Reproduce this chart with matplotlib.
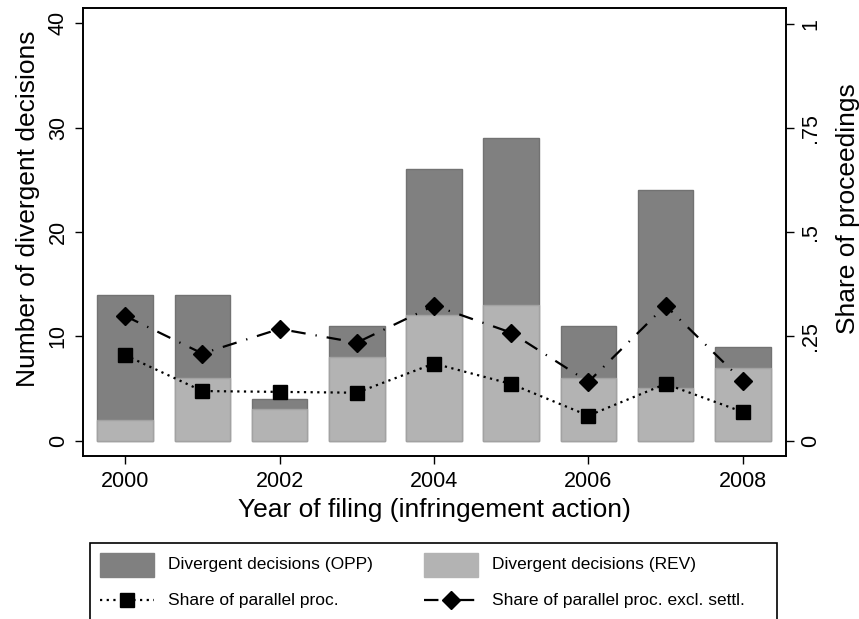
import numpy as np
import matplotlib
matplotlib.use('Agg')
import matplotlib.pyplot as plt
from matplotlib.patches import Rectangle
from matplotlib.lines import Line2D

plt.rcParams['font.family'] = ['Liberation Sans', 'DejaVu Sans']

years = [2000, 2001, 2002, 2003, 2004, 2005, 2006, 2007, 2008]
div_total = [14, 14, 4, 11, 26, 29, 11, 24, 9]       # OPP + REV (dark bar top)
div_rev = [2, 6, 3, 8, 12, 13, 6, 5, 7]               # REV (light bar)
share_parallel = [0.205, 0.119, 0.117, 0.115, 0.185, 0.136, 0.060, 0.136, 0.069]
share_excl_settl = [0.299, 0.209, 0.268, 0.235, 0.324, 0.259, 0.141, 0.324, 0.143]

DARK = '#808080'
LIGHT = '#b3b3b3'
DOT = (1.0, 2.0)
LDASH_DOT = (6.5, 4.5, 0.6, 4.5)
W, H = 859, 619

fig = plt.figure(figsize=(W / 100, H / 100), dpi=100, facecolor='white')
ax = fig.add_axes([82.7 / W, 1 - 456 / H, (786 - 82.7) / W, (456 - 8.3) / H])

ax.bar(years, div_total, width=0.72, color=DARK, edgecolor='#727272', linewidth=1, zorder=2)
ax.bar(years, div_rev, width=0.72, color=LIGHT, edgecolor='#a2a2a2', linewidth=1, zorder=3)
ax.set_xlim(1999.45, 2008.56)
ax.set_ylim(-1.47, 41.44)
ax.set_xticks([2000, 2002, 2004, 2006, 2008])
ax.set_yticks([0, 10, 20, 30, 40])
ax.set_yticklabels(['0', '10', '20', '30', '40'], rotation=90, va='center')
ax.tick_params(labelsize=15.5, length=6, width=1, direction='out', colors='black')
ax.tick_params(axis='x', pad=5)
ax.tick_params(axis='y', pad=4)
ax.set_xlabel('Year of filing (infringement action)', fontsize=19, labelpad=4)
ax.set_ylabel('Number of divergent decisions', fontsize=19)
ax.yaxis.set_label_coords(-0.061, 0.553)

ax2 = ax.twinx()
ax2.set_ylim(-0.0367, 1.0366)
ax2.plot(years, share_parallel, color='black', lw=1.6, marker='s', markersize=10,
         dashes=DOT, zorder=5)
ax2.plot(years, share_excl_settl, color='black', lw=1.6, marker='D', markersize=9.5,
         dashes=LDASH_DOT, zorder=5)
ax2.set_yticks([0, 0.25, 0.5, 0.75, 1])
ax2.set_yticklabels(['0', '.25', '.5', '.75', '1'], rotation=90, va='center')
ax2.tick_params(labelsize=15.5, length=6, width=1, direction='out', pad=4)
ax2.set_ylabel('Share of proceedings', fontsize=19)
ax2.yaxis.set_label_coords(1.0716, 0.553)

for a in (ax, ax2):
    for s in a.spines.values():
        s.set_linewidth(1.2)

# legend (Stata style box, bottom cut by figure edge)
fig.add_artist(Rectangle((89.7 / W, -0.05), (776.7 - 89.7) / W, 0.05 + (H - 542.7) / H,
                         transform=fig.transFigure, facecolor='white', edgecolor='black',
                         linewidth=1.2))
ry1 = (H - 565) / H
ry2 = (H - 600) / H
ph = 24.5 / H
for x0, col, lab in [(100, DARK, 'Divergent decisions (OPP)'), (424, LIGHT, 'Divergent decisions (REV)')]:
    fig.add_artist(Rectangle((x0 / W, ry1 - ph / 2), 54 / W, ph, transform=fig.transFigure,
                             facecolor=col, edgecolor=col))
    fig.text((x0 + 68) / W, ry1, lab, fontsize=12.5, va='center', ha='left')
for x0, ds, mk, ms, lab in [(100, DOT, 's', 10, 'Share of parallel proc.'),
                            (424, LDASH_DOT, 'D', 9.5, 'Share of parallel proc. excl. settl.')]:
    fig.add_artist(Line2D([x0 / W, (x0 + 54) / W], [ry2, ry2], transform=fig.transFigure,
                          color='black', lw=1.6, dashes=ds))
    fig.add_artist(Line2D([(x0 + 27) / W], [ry2], transform=fig.transFigure, color='black',
                          marker=mk, markersize=ms, linestyle='none'))
    fig.text((x0 + 68) / W, ry2, lab, fontsize=12.5, va='center', ha='left')

fig.savefig('out.png', dpi=100, facecolor='white')
